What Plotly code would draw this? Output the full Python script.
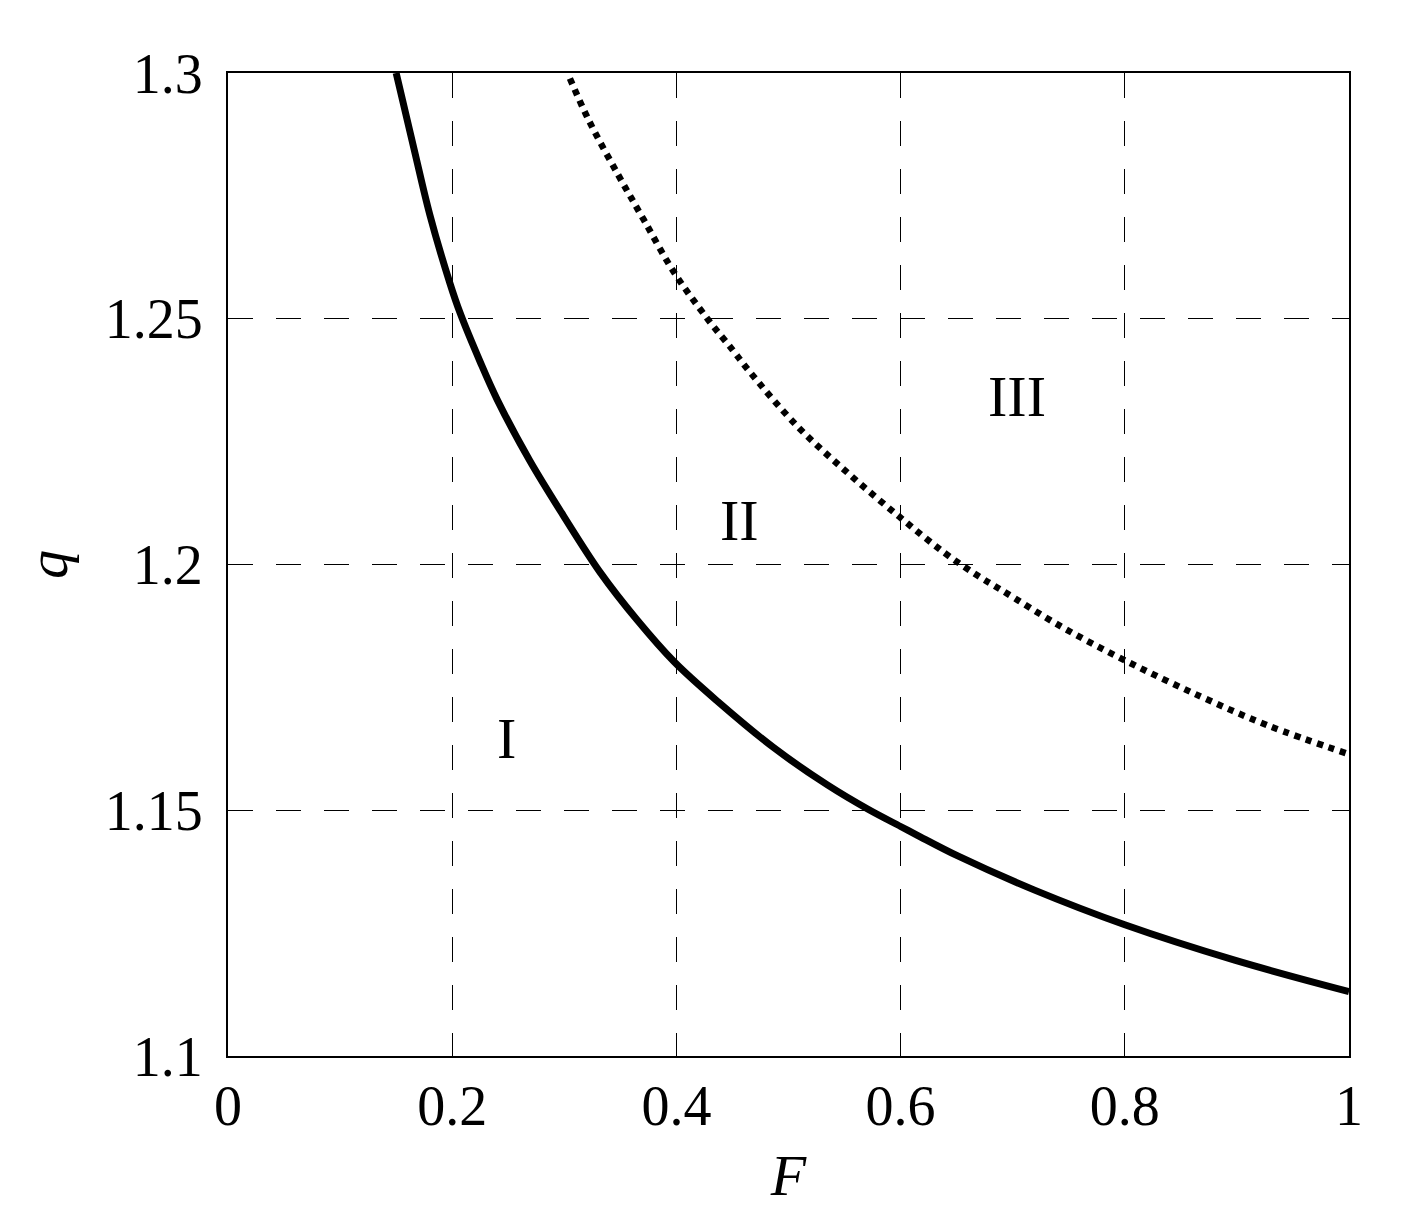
import plotly.graph_objects as go

# Solid boundary curve (I / II)
F_solid = [0.150, 0.166, 0.180, 0.198, 0.207, 0.225, 0.240, 0.269, 0.299,
           0.332, 0.365, 0.398, 0.437, 0.487, 0.535, 0.571, 0.600, 0.615, 0.651, 0.719,
           0.800, 0.898, 1.000]
q_solid = [1.300, 1.2845, 1.2712, 1.2572, 1.2512, 1.2412, 1.2336, 1.2212, 1.2100,
           1.1984, 1.1887, 1.1802, 1.1721, 1.1627, 1.1551, 1.1502, 1.1467, 1.1449, 1.1407, 1.1338,
           1.1267, 1.1195, 1.1131]

# Dotted boundary curve (II / III)
F_dot = [0.305, 0.322, 0.348, 0.371, 0.398, 0.428, 0.450, 0.464, 0.508, 0.553,
         0.599, 0.639, 0.669, 0.690, 0.743, 0.800, 0.868, 0.927, 1.000]
q_dot = [1.2989, 1.2903, 1.2793, 1.2701, 1.2594, 1.2499, 1.2437, 1.2396, 1.2281, 1.2186,
         1.2097, 1.2024, 1.1977, 1.1948, 1.1874, 1.1805, 1.1731, 1.1673, 1.1614]

# Region labels
region_text = ["I", "II", "III"]
region_F = [0.248, 0.456, 0.704]
region_q = [1.1647, 1.209, 1.2341]

x_ticks = [0, 0.2, 0.4, 0.6, 0.8, 1]
x_ticklabels = ["0", "0.2", "0.4", "0.6", "0.8", "1"]
y_ticks = [1.1, 1.15, 1.2, 1.25, 1.3]
y_ticklabels = ["1.1", "1.15", "1.2", "1.25", "1.3"]

FONT = "Liberation Serif, Times New Roman, serif"

fig = go.Figure()
fig.add_trace(go.Scatter(x=F_solid, y=q_solid, mode="lines", line_shape="spline",
                         line=dict(color="black", width=7), showlegend=False))
fig.add_trace(go.Scatter(x=F_dot, y=q_dot, mode="lines", line_shape="spline",
                         line=dict(color="black", width=6.5, dash="6px,6px"), showlegend=False))

for t, fx, qy in zip(region_text, region_F, region_q):
    fig.add_annotation(x=fx, y=qy, text=t, showarrow=False,
                       font=dict(family=FONT, size=58, color="black"),
                       xanchor="center", yanchor="middle")

axis_common = dict(
    showline=True, linecolor="black", linewidth=2, mirror="ticks",
    ticks="inside", ticklen=5, tickcolor="black", tickwidth=1,
    showgrid=True, gridcolor="black", gridwidth=1, griddash="25px,23px",
    zeroline=False,
    tickfont=dict(family=FONT, size=56, color="black"),
)

fig.update_xaxes(range=[0, 1], tickvals=x_ticks, ticktext=x_ticklabels,
                 title=dict(text="<i>F</i>", font=dict(family=FONT, size=58, color="black"),
                            standoff=18),
                 ticklabelstandoff=0,
                 **axis_common)
fig.update_yaxes(range=[1.1, 1.3], tickvals=y_ticks, ticktext=y_ticklabels,
                 title=dict(text="<i>q</i>", font=dict(family=FONT, size=58, color="black"),
                            standoff=18),
                 ticklabelstandoff=12,
                 **axis_common)

fig.update_layout(
    width=1424, height=1231,
    margin=dict(l=220, r=83, t=65, b=183),
    paper_bgcolor="white", plot_bgcolor="white",
    font=dict(family=FONT, color="black"),
)

fig.write_html("out.html")
